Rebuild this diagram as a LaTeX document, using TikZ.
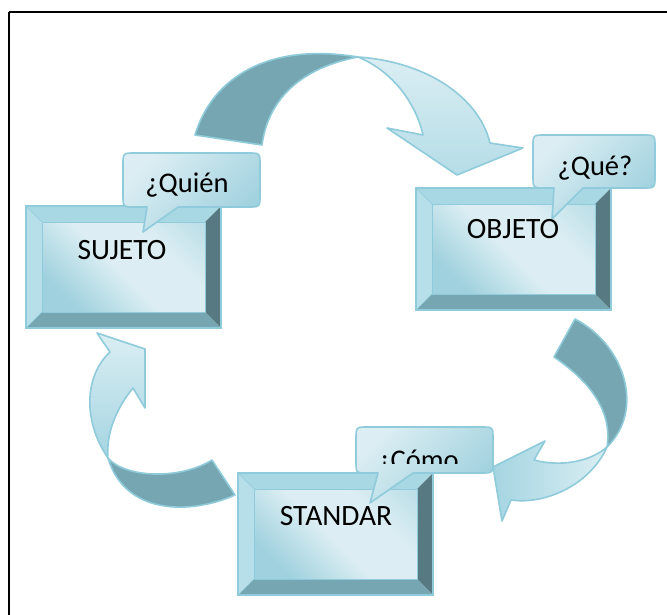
\documentclass[tikz,border=0pt]{standalone}
\usepackage{fontspec}
\setmainfont{Carlito}
\definecolor{edge}{HTML}{8FCBDA}
\definecolor{ribdark}{HTML}{75A6B1}
\definecolor{riblight}{HTML}{DAEEF3}
\definecolor{ribblue}{HTML}{A5D5E2}
\definecolor{bevtop}{HTML}{A8D8E4}
\definecolor{bevleft}{HTML}{B6DFE9}
\definecolor{bevright}{HTML}{577A82}
\definecolor{bevbot}{HTML}{76A6B1}
\definecolor{facedark}{HTML}{9FD1DE}
\definecolor{facelight}{HTML}{DCEEF3}
\pgfdeclarehorizontalshading{boxface}{100bp}{color(0bp)=(facedark); color(25bp)=(facedark); color(48bp)=(facelight); color(66bp)=(facelight); color(85bp)=(facedark!55!facelight); color(100bp)=(facedark!55!facelight)}
\tikzset{
  ribbondark/.style={fill=ribdark, draw=edge, line width=1.6pt, line join=round},
  ribbonlight/.style={draw=edge, line width=1.6pt, line join=round},
  bevelpart/.style={draw=edge, line width=0.6pt},
  boxtext/.style={font=\fontsize{29.5}{34}\selectfont, anchor=base, inner sep=0pt},
  bubbletext/.style={font=\fontsize{28.5}{34}\selectfont, anchor=base, inner sep=0pt},
  bubblebody/.style={draw=edge, line width=1.6pt, line join=round, left color=facelight, right color=facedark, shading angle=45},
  frameline/.style={draw=black, line width=2pt}
}
\newcommand\bevbox[4]{%
  \fill[bevtop] (#1,#2) -- (#3,#2) -- ({#3-16},{#2+16}) -- ({#1+16},{#2+16}) -- cycle;
  \fill[bevleft] (#1,#2) -- ({#1+16},{#2+16}) -- ({#1+16},{#4-16}) -- (#1,#4) -- cycle;
  \fill[bevright] (#3,#2) -- (#3,#4) -- ({#3-16},{#4-16}) -- ({#3-16},{#2+16}) -- cycle;
  \fill[bevbot] (#1,#4) -- (#3,#4) -- ({#3-16},{#4-16}) -- ({#1+16},{#4-16}) -- cycle;
  \shade[shading=boxface, shading angle=45] ({#1+16},{#2+16}) rectangle ({#3-16},{#4-16});
  \draw[bevelpart] (#1,#2) -- ({#1+16},{#2+16}) (#1,#4) -- ({#1+16},{#4-16});
  \draw[draw=edge, line width=1pt] ({#1+16},{#2+16}) rectangle ({#3-16},{#4-16});
  \draw[draw=edge, line width=1.6pt] (#1,#2) rectangle (#3,#4);
}
% x1 y1 x2 y2 tailA tipx tipy tailB
\newcommand\bubble[8]{%
  \path[bubblebody] ({#1+12},#2) -- ({#3-12},#2) .. controls (#3,#2) .. (#3,{#2+12})
    -- (#3,{#4-12}) .. controls (#3,#4) .. ({#3-12},#4) -- (#8,#4) -- (#6,#7) -- (#5,#4)
    -- ({#1+12},#4) .. controls (#1,#4) .. (#1,{#4-12}) -- (#1,{#2+12}) .. controls (#1,#2) .. cycle;
}
\begin{document}
\begin{tikzpicture}[x=1pt,y=-1pt]
\useasboundingbox (0,0) rectangle (667,614);
\fill[white] (0,0) rectangle (667,614);
\draw[frameline] (9,12) -- (720,12) (9,12) -- (9,660);

% top arrow
\path[ribbondark] (195,135) .. controls (212,78) and (268,42) .. (358,57)
  .. controls (300,68) and (268,100) .. (262,145) -- cycle;
\path[ribbonlight, top color=riblight, bottom color=ribblue!70!riblight]
  (358,57) .. controls (430,62) and (480,100) .. (490,143)
  -- (523,148) -- (457,175) -- (387,128) -- (423,135)
  .. controls (415,100) and (390,70) .. (358,57) -- cycle;

% right arrow
\path[ribbondark] (554,357) -- (575,319) .. controls (625,345) and (645,410) .. (607,447)
  .. controls (612,415) and (595,385) .. (554,357) -- cycle;
\path[ribbonlight, left color=ribblue, right color=riblight]
  (607,447) .. controls (590,485) and (545,505) .. (511,500)
  -- (502,521) -- (493,467) -- (545,441) -- (534,460)
  .. controls (560,467) and (590,462) .. (607,447) -- cycle;

% left arrow
\path[ribbondark] (212,460) -- (235,495) .. controls (190,515) and (125,515) .. (108,458)
  .. controls (125,478) and (180,480) .. (212,460) -- cycle;
\path[ribbonlight, top color=riblight, bottom color=ribblue]
  (108,458) .. controls (82,420) and (85,375) .. (110,352)
  -- (97,333) -- (145,349) -- (145,408) -- (133,388)
  .. controls (115,410) and (106,435) .. (108,458) -- cycle;

% boxes
\bevbox{26}{206}{221}{328}
\bevbox{416}{188}{611}{310}
\bevbox{238}{473}{433}{595}

% bubbles
\bubble{123}{153}{260}{207}{147}{143}{232}{178}
\bubble{533}{135}{655}{188}{554}{552}{219}{583}
\bubble{356}{427}{493}{473}{378}{370}{503}{413}

% texts
\node[boxtext] (sujeto) at (122,259) {SUJETO};
\node[boxtext] (objeto) at (513,238) {OBJETO};
\node[boxtext] (standar) at (336,525) {STANDAR};
\node[bubbletext] (quien) at (187,192) {¿Quién};
\node[bubbletext] (que) at (595,175) {¿Qué?};
\begin{scope}
\clip (356,420) rectangle (493,463.5);
\node[bubbletext] (como) at (418,469) {¿Cómo};
\end{scope}
\end{tikzpicture}
\end{document}
